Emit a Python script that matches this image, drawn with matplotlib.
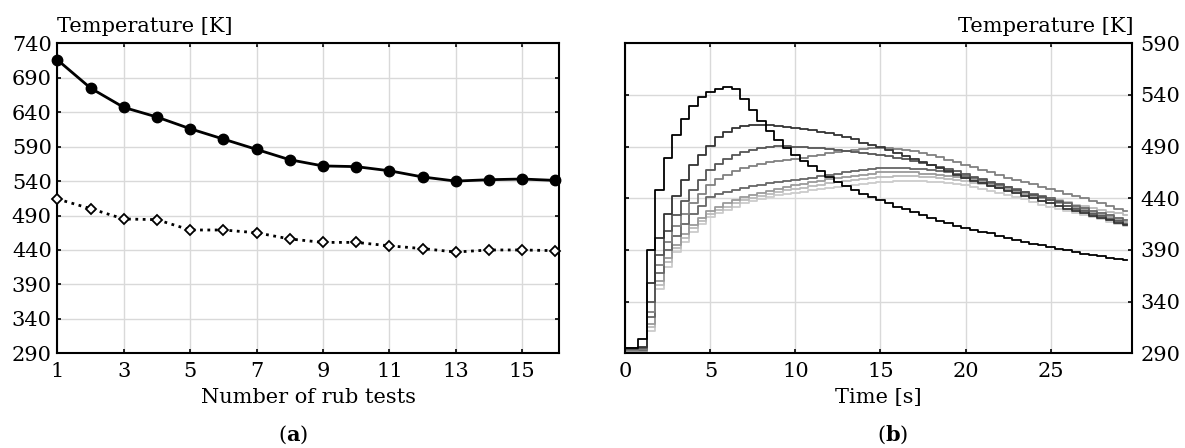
import matplotlib
matplotlib.use("Agg")
import matplotlib.pyplot as plt
import numpy as np

plt.rcParams["font.family"] = "DejaVu Serif"
plt.rcParams["mathtext.fontset"] = "dejavuserif"
plt.rcParams["font.size"] = 15

###############################################################################
# (a) peak temperature vs. number of rub tests

rub_tests = [1, 2, 3, 4, 5, 6, 7, 8, 9, 10, 11, 12, 13, 14, 15, 16]
temp_max = [716, 675, 647, 633, 616, 601, 586, 571, 562, 561, 555, 546,
            540, 542, 543, 541]
temp_other = [514, 500, 485, 484, 469, 469, 465, 456, 451, 451, 446, 442,
              437, 440, 440, 439]

# (b) temperature histories, sampled every 0.5 s
time_s = [0.5 * k for k in range(60)]

temp_k = [295, 295, 304, 390, 448, 479, 501, 517, 529, 538, 543, 546, 548, 546,
          536, 525, 515, 505, 496, 489, 482, 476, 471, 466, 461, 456, 452, 448,
          444, 441, 438, 435, 432, 430, 427, 424, 421, 418, 416, 413, 411, 409,
          407, 406, 404, 402, 400, 398, 396, 395, 393, 391, 390, 388, 386, 385,
          384, 382, 381, 380]
temp_a = [295, 295, 296, 358, 402, 425, 442, 458, 472, 482, 491, 499, 504, 508,
          510, 511, 511, 511, 510, 509, 508, 507, 506, 504, 503, 501, 499, 497,
          494, 492, 490, 487, 484, 481, 478, 475, 472, 469, 466, 463, 460, 457,
          455, 452, 450, 447, 445, 442, 440, 437, 435, 433, 430, 428, 426, 423,
          421, 419, 416, 414]
temp_b = [294, 294, 295, 340, 385, 408, 424, 437, 448, 458, 467, 473, 478, 482,
          485, 487, 489, 490, 491, 491, 490, 490, 489, 489, 488, 487, 486, 485,
          484, 483, 482, 481, 479, 478, 476, 474, 472, 470, 468, 466, 464, 461,
          459, 456, 454, 451, 448, 446, 443, 441, 438, 436, 433, 430, 428, 425,
          423, 420, 418, 415]
temp_c = [293, 293, 294, 330, 375, 398, 413, 425, 435, 444, 453, 459, 463, 466,
          469, 471, 473, 475, 476, 477, 478, 479, 481, 482, 484, 485, 486, 487,
          488, 489, 489, 489, 488, 487, 486, 484, 482, 480, 477, 475, 472, 470,
          467, 465, 463, 460, 458, 456, 454, 451, 449, 447, 444, 442, 440, 437,
          435, 433, 430, 428]
temp_d = [293, 293, 293, 325, 368, 390, 404, 415, 425, 433, 441, 444, 446, 448,
          450, 452, 453, 455, 456, 457, 458, 459, 460, 462, 463, 464, 465, 466,
          467, 468, 469, 469, 469, 469, 468, 468, 467, 466, 465, 464, 462, 460,
          458, 455, 453, 451, 449, 446, 444, 442, 440, 437, 435, 433, 431, 428,
          426, 424, 421, 419]
temp_e = [292, 292, 292, 318, 360, 382, 395, 405, 414, 421, 428, 432, 435, 438,
          441, 443, 445, 447, 449, 451, 453, 454, 456, 457, 459, 460, 461, 462,
          463, 464, 465, 465, 465, 465, 465, 464, 464, 463, 462, 461, 460, 458,
          456, 453, 451, 449, 447, 444, 442, 440, 438, 435, 433, 431, 429, 426,
          424, 422, 419, 417]
temp_f = [292, 292, 292, 315, 356, 378, 392, 402, 411, 418, 425, 429, 432, 435,
          438, 440, 442, 444, 446, 448, 449, 450, 452, 453, 455, 456, 457, 458,
          459, 460, 461, 461, 462, 462, 462, 461, 461, 460, 459, 458, 457, 455,
          454, 452, 450, 448, 447, 445, 443, 441, 440, 438, 436, 434, 433, 431,
          429, 427, 426, 424]
temp_g = [291, 291, 291, 312, 352, 374, 388, 398, 407, 415, 422, 426, 429, 432,
          435, 437, 439, 441, 443, 444, 445, 446, 448, 449, 450, 451, 452, 453,
          454, 455, 456, 456, 457, 457, 457, 457, 456, 456, 455, 454, 453, 451,
          449, 447, 445, 443, 441, 439, 436, 434, 432, 430, 428, 426, 424, 422,
          420, 417, 415, 413]

histories = [temp_k, temp_a, temp_b, temp_c, temp_d, temp_e, temp_f, temp_g]
shades = ["#000000", "#333333", "#555555", "#808080", "#666666", "#9a9a9a",
          "#bbbbbb", "#cccccc"]

###############################################################################

fig = plt.figure(figsize=(11.85, 4.48), dpi=100)
ax1 = fig.add_axes([0.0484, 0.2114, 0.4236, 0.6919])
ax2 = fig.add_axes([0.5277, 0.2114, 0.4278, 0.6919])


def style_axes(ax):
    ax.grid(True, color="#d9d9d9", lw=1.0)
    ax.set_axisbelow(True)
    for s in ax.spines.values():
        s.set_linewidth(1.5)
    ax.tick_params(direction="in", length=3, width=1.2,
                   top=True, bottom=True, left=True, right=True)


# (a)
style_axes(ax1)
ax1.plot(rub_tests, temp_max, "-", color="black", lw=2.0,
         marker="o", ms=7.5, clip_on=False, zorder=3)
ax1.plot(rub_tests, temp_other, ":", color="black", lw=2.0,
         marker="D", ms=5.5, mfc="white", mec="black", mew=1.3,
         clip_on=False, zorder=3)
ax1.set_xlim(1, 16.12)
ax1.set_ylim(290, 740)
ax1.set_xticks(range(1, 16, 2))
ax1.set_yticks(range(290, 741, 50))
ax1.tick_params(axis="x", pad=6)
ax1.tick_params(axis="y", pad=4)
ax1.set_xlabel("Number of rub tests", labelpad=5)
ax1.text(0, 1.036, "Temperature [K]", transform=ax1.transAxes,
         ha="left", va="baseline")

# (b)
style_axes(ax2)
for temps, c in reversed(list(zip(histories, shades))):
    ax2.plot(time_s, temps, drawstyle="steps-mid", color=c, lw=1.3)
ax2.set_xlim(0, 29.8)
ax2.set_ylim(290, 590)
ax2.set_xticks(range(0, 26, 5))
ax2.set_yticks(range(290, 591, 50))
ax2.yaxis.tick_right()
ax2.tick_params(direction="in", left=True, right=True, top=True, bottom=True,
                labelleft=False, labelright=True)
ax2.tick_params(axis="x", pad=6)
ax2.tick_params(axis="y", pad=6)
ax2.set_xlabel("Time [s]", labelpad=5)
ax2.text(1.003, 1.036, "Temperature [K]", transform=ax2.transAxes,
         ha="right", va="baseline")

fig.text(0.247, 0.029, r"($\mathbf{a}$)", ha="center", va="center")
fig.text(0.753, 0.029, r"($\mathbf{b}$)", ha="center", va="center")

fig.savefig("out.png", dpi=100)
